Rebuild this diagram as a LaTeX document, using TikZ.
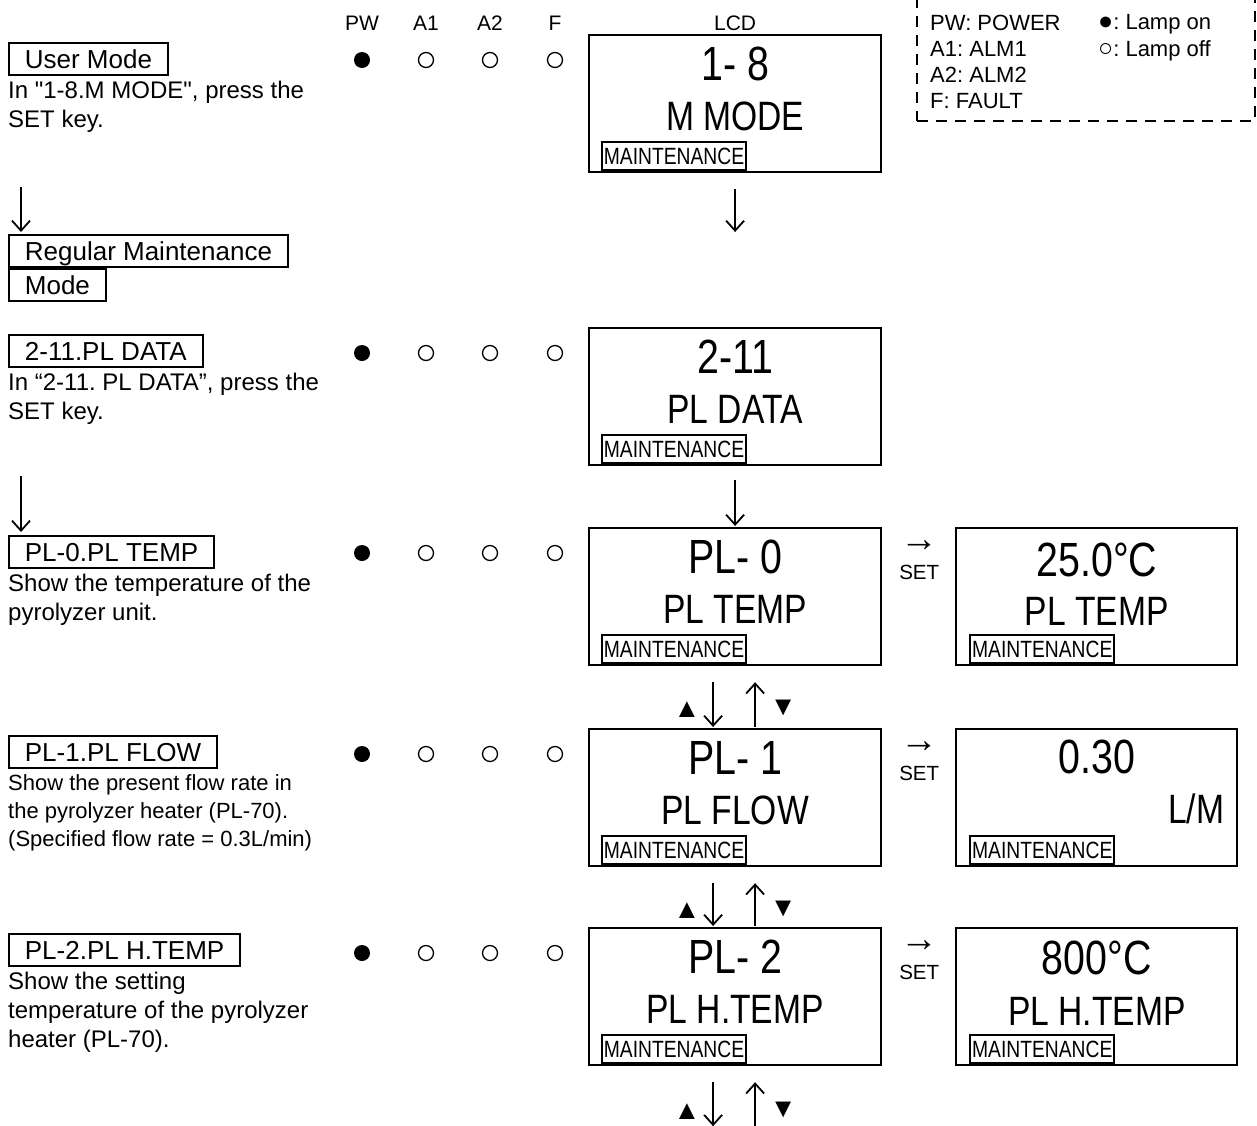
\documentclass[tikz,border=0pt]{standalone}
\usepackage{fontspec}
\setmainfont{Liberation Sans}
\newfontfamily\narrowfont{Liberation Sans}[FakeStretch=0.82]
\usetikzlibrary{arrows.meta,positioning,calc,fit}
\frenchspacing

\begin{document}
\begin{tikzpicture}[
    x=1pt, y=-1pt,
    modebox/.style={draw, line width=1.8pt, anchor=north west, inner xsep=16pt, inner ysep=0pt, minimum height=32pt, text height=18.6pt, text depth=0pt, font=\fontsize{26}{26}\selectfont},
    desc/.style={anchor=north west, inner sep=0pt, align=left, font=\fontsize{24}{29}\selectfont},
    lcd/.style={draw, line width=2.2pt, anchor=north west, minimum width=292pt, minimum height=137pt, inner sep=0pt},
    lcdtop/.style={inner sep=0pt, font=\narrowfont\fontsize{48}{48}\selectfont},
    lcdbot/.style={inner sep=0pt, font=\narrowfont\fontsize{41}{41}\selectfont},
    tag/.style={draw, line width=1.8pt, anchor=south west, inner xsep=2pt, inner ysep=0pt, minimum height=28pt, text height=16.8pt, text depth=0pt, font=\narrowfont\fontsize{23.5}{23.5}\selectfont},
    lampon/.style={circle, fill, minimum size=16pt, inner sep=0pt},
    lampoff/.style={circle, draw, line width=1.3pt, minimum size=15pt, inner sep=0pt},
    head/.style={inner sep=0pt, font=\fontsize{21}{21}\selectfont},
    setlbl/.style={inner sep=0pt, font=\fontsize{20.5}{20.5}\selectfont},
    setarrow/.style={inner sep=0pt, font=\fontsize{38}{38}\selectfont},
    tri/.style={inner sep=0pt, font=\fontsize{27}{27}\selectfont},
    arr/.style={-{Straight Barb[length=10pt,width=18pt]}, line width=1.8pt},
    legendtxt/.style={anchor=north west, inner sep=0pt, align=left, font=\fontsize{22}{26.3}\selectfont},
    legendframe/.style={draw, dash pattern=on 11pt off 8pt, line width=2.2pt, inner sep=0pt}
]
    \path[use as bounding box, fill=white] (0,0) rectangle (1257,1125);

    % Legend
    \node[legendframe, fit={(917,-40) (1255,121)}] (legend) {};
    \node[legendtxt] (legkeys) at (930,14.5) {PW: POWER\\A1: ALM1\\A2: ALM2\\F: FAULT};
    \node[legendtxt] (legmarks) at (1098,14.5) {{\fontsize{25}{25}\selectfont ●}: Lamp on\\{\fontsize{25}{25}\selectfont ○}: Lamp off};

    % Headers
    \node[head] (hdpw) at (362,23) {PW};
    \node[head] (hda1) at (426,23) {A1};
    \node[head] (hda2) at (490,23) {A2};
    \node[head] (hdf) at (555,23) {F};

    % Left column: modes and items
    \node[modebox] (usermode) at (8,42) {User Mode};
    \node[desc, below=5pt of usermode.south west, anchor=north west] (userdesc) {In \textquotedbl 1-8.M MODE\textquotedbl, press the\\SET key.};
    \node[modebox] (regular) at (8,234) {Regular Maintenance};
    \node[modebox, below=0pt of regular.south west, anchor=north west] (regmode) {Mode};
    \node[modebox] (pldata) at (8,334) {2-11.PL DATA};
    \node[desc, below=5pt of pldata.south west, anchor=north west] (pldatadesc) {In “2-11. PL DATA”, press the\\SET key.};
    \node[modebox] (plzero) at (8,535) {PL-0.PL TEMP};
    \node[desc, below=5pt of plzero.south west, anchor=north west] (plzerodesc) {Show the temperature of the\\pyrolyzer unit.};
    \node[modebox] (plone) at (8,735) {PL-1.PL FLOW};
    \node[desc, font=\fontsize{22}{28}\selectfont, below=6pt of plone.south west, anchor=north west] (plonedesc) {Show the present flow rate in\\the pyrolyzer heater (PL-70).\\(Specified flow rate = 0.3L/min)};
    \node[modebox] (pltwo) at (8,933) {PL-2.PL H.TEMP};
    \node[desc, below=5pt of pltwo.south west, anchor=north west] (pltwodesc) {Show the setting\\temperature of the pyrolyzer\\heater (PL-70).};

    % LCD screens with lamps
    \foreach \n/\t/\a/\b in {lcdum/34/1- 8/M MODE, lcdpd/327/2-11/PL DATA, lcdpl0/527/PL- 0/PL TEMP, lcdpl1/728/PL- 1/PL FLOW, lcdpl2/927/PL- 2/PL H.TEMP} {
        \node[lcd] (\n) at (588,\t) {};
        \node[lcdtop] (\n-top) at ([yshift=-30pt]\n.north) {\a};
        \node[lcdbot] (\n-bot) at ([yshift=-82pt]\n.north) {\b};
        \node[tag] (\n-tag) at ([xshift=13pt,yshift=2.5pt]\n.south west) {MAINTENANCE};
        \node[lampon] (\n-pw) at (362,\t+26) {};
        \node[lampoff] (\n-a1) at (426,\t+26) {};
        \node[lampoff] (\n-a2) at (490,\t+26) {};
        \node[lampoff] (\n-f) at (555,\t+26) {};
    }
    \node[head] (hdlcd) at ([yshift=11pt]lcdum.north) {LCD};

    % Value screens
    \node[lcd, minimum width=281pt, right=73pt of lcdpl0.north east, anchor=north west] (valpl0) {};
    \node[lcdtop] (valpl0-top) at ([yshift=-33pt]valpl0.north) {25.0°C};
    \node[lcdbot] (valpl0-bot) at ([yshift=-84pt]valpl0.north) {PL TEMP};
    \node[tag] (valpl0-tag) at ([xshift=14pt,yshift=2pt]valpl0.south west) {MAINTENANCE};

    \node[lcd, minimum width=281pt, right=73pt of lcdpl1.north east, anchor=north west] (valpl1) {};
    \node[lcdtop] (valpl1-top) at ([yshift=-29pt]valpl1.north) {0.30};
    \node[lcdbot, anchor=east] (valpl1-bot) at ([xshift=-14pt,yshift=-81pt]valpl1.north east) {L/M};
    \node[tag] (valpl1-tag) at ([xshift=14pt,yshift=2pt]valpl1.south west) {MAINTENANCE};

    \node[lcd, minimum width=281pt, right=73pt of lcdpl2.north east, anchor=north west] (valpl2) {};
    \node[lcdtop] (valpl2-top) at ([yshift=-31pt]valpl2.north) {800°C};
    \node[lcdbot] (valpl2-bot) at ([yshift=-84pt]valpl2.north) {PL H.TEMP};
    \node[tag] (valpl2-tag) at ([xshift=14pt,yshift=2pt]valpl2.south west) {MAINTENANCE};

    % SET marks
    \foreach \n in {lcdpl0, lcdpl1, lcdpl2} {
        \node[setarrow] (\n-arrow) at ([xshift=37pt,yshift=-19pt]\n.north east) {→};
        \node[setlbl] (\n-set) at ([xshift=37pt,yshift=-45pt]\n.north east) {SET};
    }

    % Connections
    \draw[arr] ([xshift=13pt,yshift=47pt]regular.north west) -- ([xshift=13pt,yshift=2pt]regular.north west);
    \draw[arr] ([xshift=13pt,yshift=59pt]plzero.north west) -- ([xshift=13pt,yshift=3pt]plzero.north west);
    \draw[arr] ($(lcdum.south)+(0,16)$) -- ($(lcdum.south |- regular.north)+(0,-2)$);
    \draw[arr] ($(lcdpd.south)+(0,14)$) -- ([yshift=1pt]lcdpl0.north);

    % Scroll keys
    \foreach \a/\b in {lcdpl0/lcdpl1, lcdpl1/lcdpl2} {
        \draw[arr] ([xshift=-22pt,yshift=-16pt]\a.south) -- ([xshift=-22pt,yshift=1pt]\b.north);
        \draw[arr] ([xshift=20pt,yshift=1pt]\b.north) -- ([xshift=20pt,yshift=-16pt]\a.south);
        \node[tri] (\a-up) at ([xshift=-48pt,yshift=-43pt]\a.south) {▲};
        \node[tri] (\a-dn) at ([xshift=48pt,yshift=-42pt]\a.south) {▼};
    }
    \coordinate (dnend) at ($(lcdpl2.south)+(-22,60)$);
    \coordinate (upstart) at ($(lcdpl2.south)+(20,64)$);
    \draw[arr] ([xshift=-22pt,yshift=-16pt]lcdpl2.south) -- (dnend);
    \draw[arr] (upstart) -- ([xshift=20pt,yshift=-16pt]lcdpl2.south);
    \node[tri] (lcdpl2-up) at ([xshift=-48pt,yshift=-45pt]lcdpl2.south) {▲};
    \node[tri] (lcdpl2-dn) at ([xshift=48pt,yshift=-44pt]lcdpl2.south) {▼};

\end{tikzpicture}
\end{document}
